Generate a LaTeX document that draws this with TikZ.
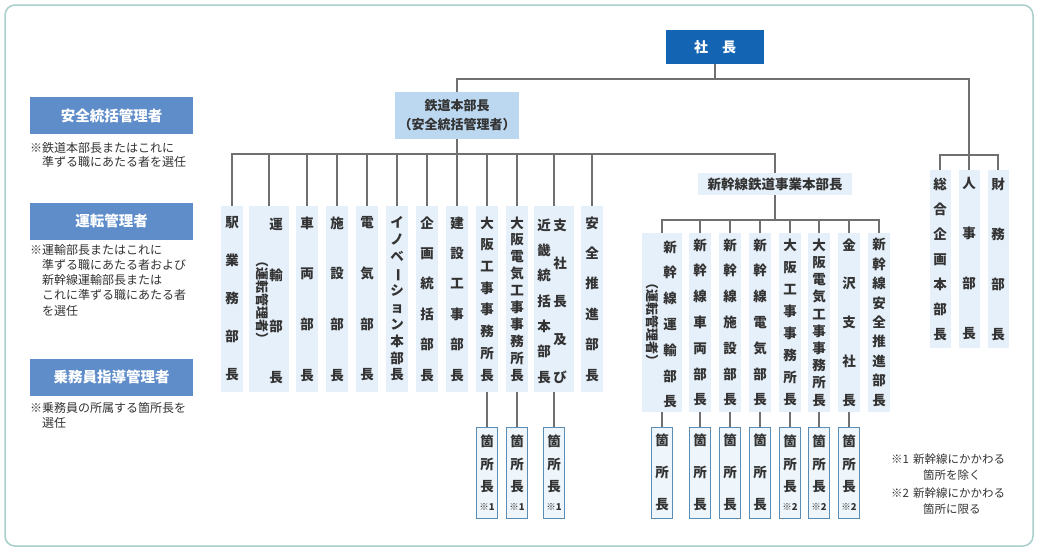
\documentclass[tikz,border=0pt]{standalone}
\usepackage{fontspec}
\setmainfont{Noto Sans CJK JP}
\definecolor{frameC}{HTML}{A8CFCB}
\definecolor{lineC}{HTML}{707070}
\definecolor{colF}{HTML}{E6F0FA}
\definecolor{hqF}{HTML}{BCD7F0}
\definecolor{presF}{HTML}{1464B4}
\definecolor{hdrF}{HTML}{5F8DC9}
\definecolor{subB}{HTML}{5A8DB5}
\definecolor{subF}{HTML}{EEF6FB}
\definecolor{txtC}{HTML}{333333}
\begin{document}
\begin{tikzpicture}[x=1pt,y=-1pt,
  conn/.style={draw=lineC, line width=1.3pt},
  vcol/.style={fill=colF, minimum width=22pt, inner sep=0pt, align=center, text=txtC},
  vtxt/.style={inner sep=0pt, align=center, text=txtC},
  bsk/.style={font=\bfseries\fontsize{13.5}{#1}\selectfont},
  mainh/.style={minimum height=186pt},
  shinh/.style={minimum height=179pt},
  righth/.style={minimum height=178pt},
  rotp/.style={rotate=-90, inner sep=0pt, text=txtC, font=\bfseries\fontsize{13}{13}\selectfont},
  hdr/.style={fill=hdrF, minimum width=163pt, minimum height=37pt, inner sep=0pt, text=white, font=\bfseries\fontsize{14.5}{16}\selectfont},
  note/.style={inner sep=0pt, align=left, anchor=north west, text=txtC},
  subbox/.style={draw=subB, line width=1pt, fill=subF, minimum width=21pt, minimum height=91pt, inner sep=0pt, align=center, text=txtC},
]
\useasboundingbox (0,0) rectangle (1037,550);
\fill[white] (0,0) rectangle (1037,550);
\draw[frameC, line width=1.5pt, rounded corners=10pt] (5,5) rectangle (1033,546);

% top
\node[fill=presF, minimum width=98pt, minimum height=34pt, inner sep=0pt, text=white, font=\bfseries\fontsize{14}{16}\selectfont] (pres) at (715,47) {社　長};
\node[fill=hqF, minimum width=124pt, minimum height=47pt, inner sep=0pt, align=center, text=txtC, font=\bfseries\fontsize{13}{19}\selectfont] (hq) at (457,115.5) {鉄道本部長\\（安全統括管理者）};
\node[fill=colF, minimum width=154pt, minimum height=22pt, inner sep=0pt, text=txtC, font=\bfseries\fontsize{13.5}{15}\selectfont] (shq) at (775,184) {新幹線鉄道事業本部長};

% left panel
\node[hdr] (h1) at (111.5,115.5) {安全統括管理者};
\node[note, font=\fontsize{12}{14}\selectfont] (n1) at (30,142) {※鉄道本部長またはこれに\\\phantom{※}準ずる職にあたる者を選任};
\node[hdr] (h2) at (111.5,221) {運転管理者};
\node[note, font=\fontsize{12}{15.2}\selectfont] (n2) at (30,244) {※運輸部長またはこれに\\\phantom{※}準ずる職にあたる者および\\\phantom{※}新幹線運輸部長または\\\phantom{※}これに準ずる職にあたる者\\\phantom{※}を選任};
\node[hdr] (h3) at (111.5,377) {乗務員指導管理者};
\node[note, font=\fontsize{12}{15}\selectfont] (n3) at (30,402) {※乗務員の所属する箇所長を\\\phantom{※}選任};

% main columns
\node[vcol,mainh,bsk=38] (c1) at (232,299) {駅\\業\\務\\部\\長};
\node[vcol,mainh,minimum width=40pt] (c2) at (269,299) {};
\node[vtxt,bsk=50.7] (c2t) at (276,301) {運\\輸\\部\\長};
\node[rotp] (c2p) at (262,300) {（運転管理者）};
\node[vcol,mainh,bsk=50.7] (c3) at (307,299) {車\\両\\部\\長};
\node[vcol,mainh,bsk=50.7] (c4) at (337,299) {施\\設\\部\\長};
\node[vcol,mainh,bsk=50.7] (c5) at (367,299) {電\\気\\部\\長};
\node[vcol,mainh,bsk=16.9] (c6) at (397,299) {イ\\ノ\\ベ\\\rotatebox[origin=c]{-90}{ー}\\シ\\ョ\\ン\\本\\部\\長};
\node[vcol,mainh,bsk=30.4] (c7) at (427,299) {企\\画\\統\\括\\部\\長};
\node[vcol,mainh,bsk=30.4] (c8) at (457,299) {建\\設\\工\\事\\部\\長};
\node[vcol,mainh,bsk=21.7] (c9) at (487,299) {大\\阪\\工\\事\\事\\務\\所\\長};
\node[vcol,mainh,bsk=16.9] (c10) at (517,299) {大\\阪\\電\\気\\工\\事\\事\\務\\所\\長};
\node[vcol,mainh,minimum width=40pt] (c11) at (554,299) {};
\node[vtxt,bsk=25.3] (c11a) at (544,301) {近\\畿\\統\\括\\本\\部\\長};
\node[vtxt,bsk=38] (c11b) at (560,301) {支\\社\\長\\及\\び};
\node[vcol,mainh,bsk=30.4] (c12) at (592,299) {安\\全\\推\\進\\部\\長};

% shinkansen columns
\node[vcol,shinh,minimum width=40pt] (s1) at (662,322.5) {};
\node[vtxt,bsk=25.8] (s1t) at (670,324.5) {新\\幹\\線\\運\\輸\\部\\長};
\node[rotp] (s1p) at (652,322) {（運転管理者）};
\node[vcol,shinh,bsk=25.8] (s2) at (700,322.5) {新\\幹\\線\\車\\両\\部\\長};
\node[vcol,shinh,bsk=25.8] (s3) at (730,322.5) {新\\幹\\線\\施\\設\\部\\長};
\node[vcol,shinh,bsk=25.8] (s4) at (760,322.5) {新\\幹\\線\\電\\気\\部\\長};
\node[vcol,shinh,bsk=22.1] (s5) at (790,322.5) {大\\阪\\工\\事\\事\\務\\所\\長};
\node[vcol,shinh,bsk=17.2] (s6) at (819,322.5) {大\\阪\\電\\気\\工\\事\\事\\務\\所\\長};
\node[vcol,shinh,bsk=38.75] (s7) at (849,322.5) {金\\沢\\支\\社\\長};
\node[vcol,shinh,bsk=19.4] (s8) at (879,322.5) {新\\幹\\線\\安\\全\\推\\進\\部\\長};

% right columns
\node[vcol,righth,minimum width=21pt,bsk=25] (r1) at (940,259) {総\\合\\企\\画\\本\\部\\長};
\node[vcol,righth,minimum width=21pt,bsk=50] (r2) at (969,259) {人\\事\\部\\長};
\node[vcol,righth,minimum width=21pt,bsk=50] (r3) at (998,259) {財\\務\\部\\長};

% bottom boxes
\node[subbox,bsk=22.5] (b1) at (487,472.5) {箇\\所\\長\\[-4pt]{\fontsize{9.5}{9.5}\selectfont ※1}};
\node[subbox,bsk=22.5] (b2) at (517,472.5) {箇\\所\\長\\[-4pt]{\fontsize{9.5}{9.5}\selectfont ※1}};
\node[subbox,bsk=22.5] (b3) at (554,472.5) {箇\\所\\長\\[-4pt]{\fontsize{9.5}{9.5}\selectfont ※1}};
\node[subbox,bsk=32] (b4) at (662,472.5) {箇\\所\\長};
\node[subbox,bsk=32] (b5) at (700,472.5) {箇\\所\\長};
\node[subbox,bsk=32] (b6) at (730,472.5) {箇\\所\\長};
\node[subbox,bsk=32] (b7) at (760,472.5) {箇\\所\\長};
\node[subbox,bsk=22.5] (b8) at (790,472.5) {箇\\所\\長\\[-4pt]{\fontsize{9.5}{9.5}\selectfont ※2}};
\node[subbox,bsk=22.5] (b9) at (819,472.5) {箇\\所\\長\\[-4pt]{\fontsize{9.5}{9.5}\selectfont ※2}};
\node[subbox,bsk=22.5] (b10) at (849,472.5) {箇\\所\\長\\[-4pt]{\fontsize{9.5}{9.5}\selectfont ※2}};

% right notes
\node[note, font=\fontsize{11.5}{15.5}\selectfont] (rn) at (891,454) {※1\hspace{4pt}新幹線にかかわる\\\hspace{32pt}箇所を除く\\[3pt]※2\hspace{4pt}新幹線にかかわる\\\hspace{32pt}箇所に限る};

% connectors
\coordinate (jA) at (715,79);
\coordinate (jR) at (969,155);
\coordinate (jB) at (457,154);
\coordinate (jC) at (775,220);
\draw[conn] (pres.south) -- (jA);
\draw[conn] (hq.north) |- (jA) -| (jR);
\draw[conn] (r1.north) |- (jR) -| (r3.north);
\draw[conn] (jR) -- (r2.north);
\draw[conn] (hq.south) -- (jB);
\draw[conn] (c1.north) |- (jB) -| (shq.north);
\foreach \n in {c2,c3,c4,c5,c6,c7,c8,c9,c10,c11,c12}
  \draw[conn] (\n.north) -- (\n.north |- jB);
\draw[conn] (shq.south) -- (jC);
\draw[conn] (s1.north) |- (jC) -| (s8.north);
\foreach \n in {s2,s3,s4,s5,s6,s7}
  \draw[conn] (\n.north) -- (\n.north |- jC);
\draw[conn] (c9.south) -- (b1.north);
\draw[conn] (c10.south) -- (b2.north);
\draw[conn] (c11.south) -- (b3.north);
\draw[conn] (s1.south) -- (b4.north);
\draw[conn] (s2.south) -- (b5.north);
\draw[conn] (s3.south) -- (b6.north);
\draw[conn] (s4.south) -- (b7.north);
\draw[conn] (s5.south) -- (b8.north);
\draw[conn] (s6.south) -- (b9.north);
\draw[conn] (s7.south) -- (b10.north);
\end{tikzpicture}
\end{document}
